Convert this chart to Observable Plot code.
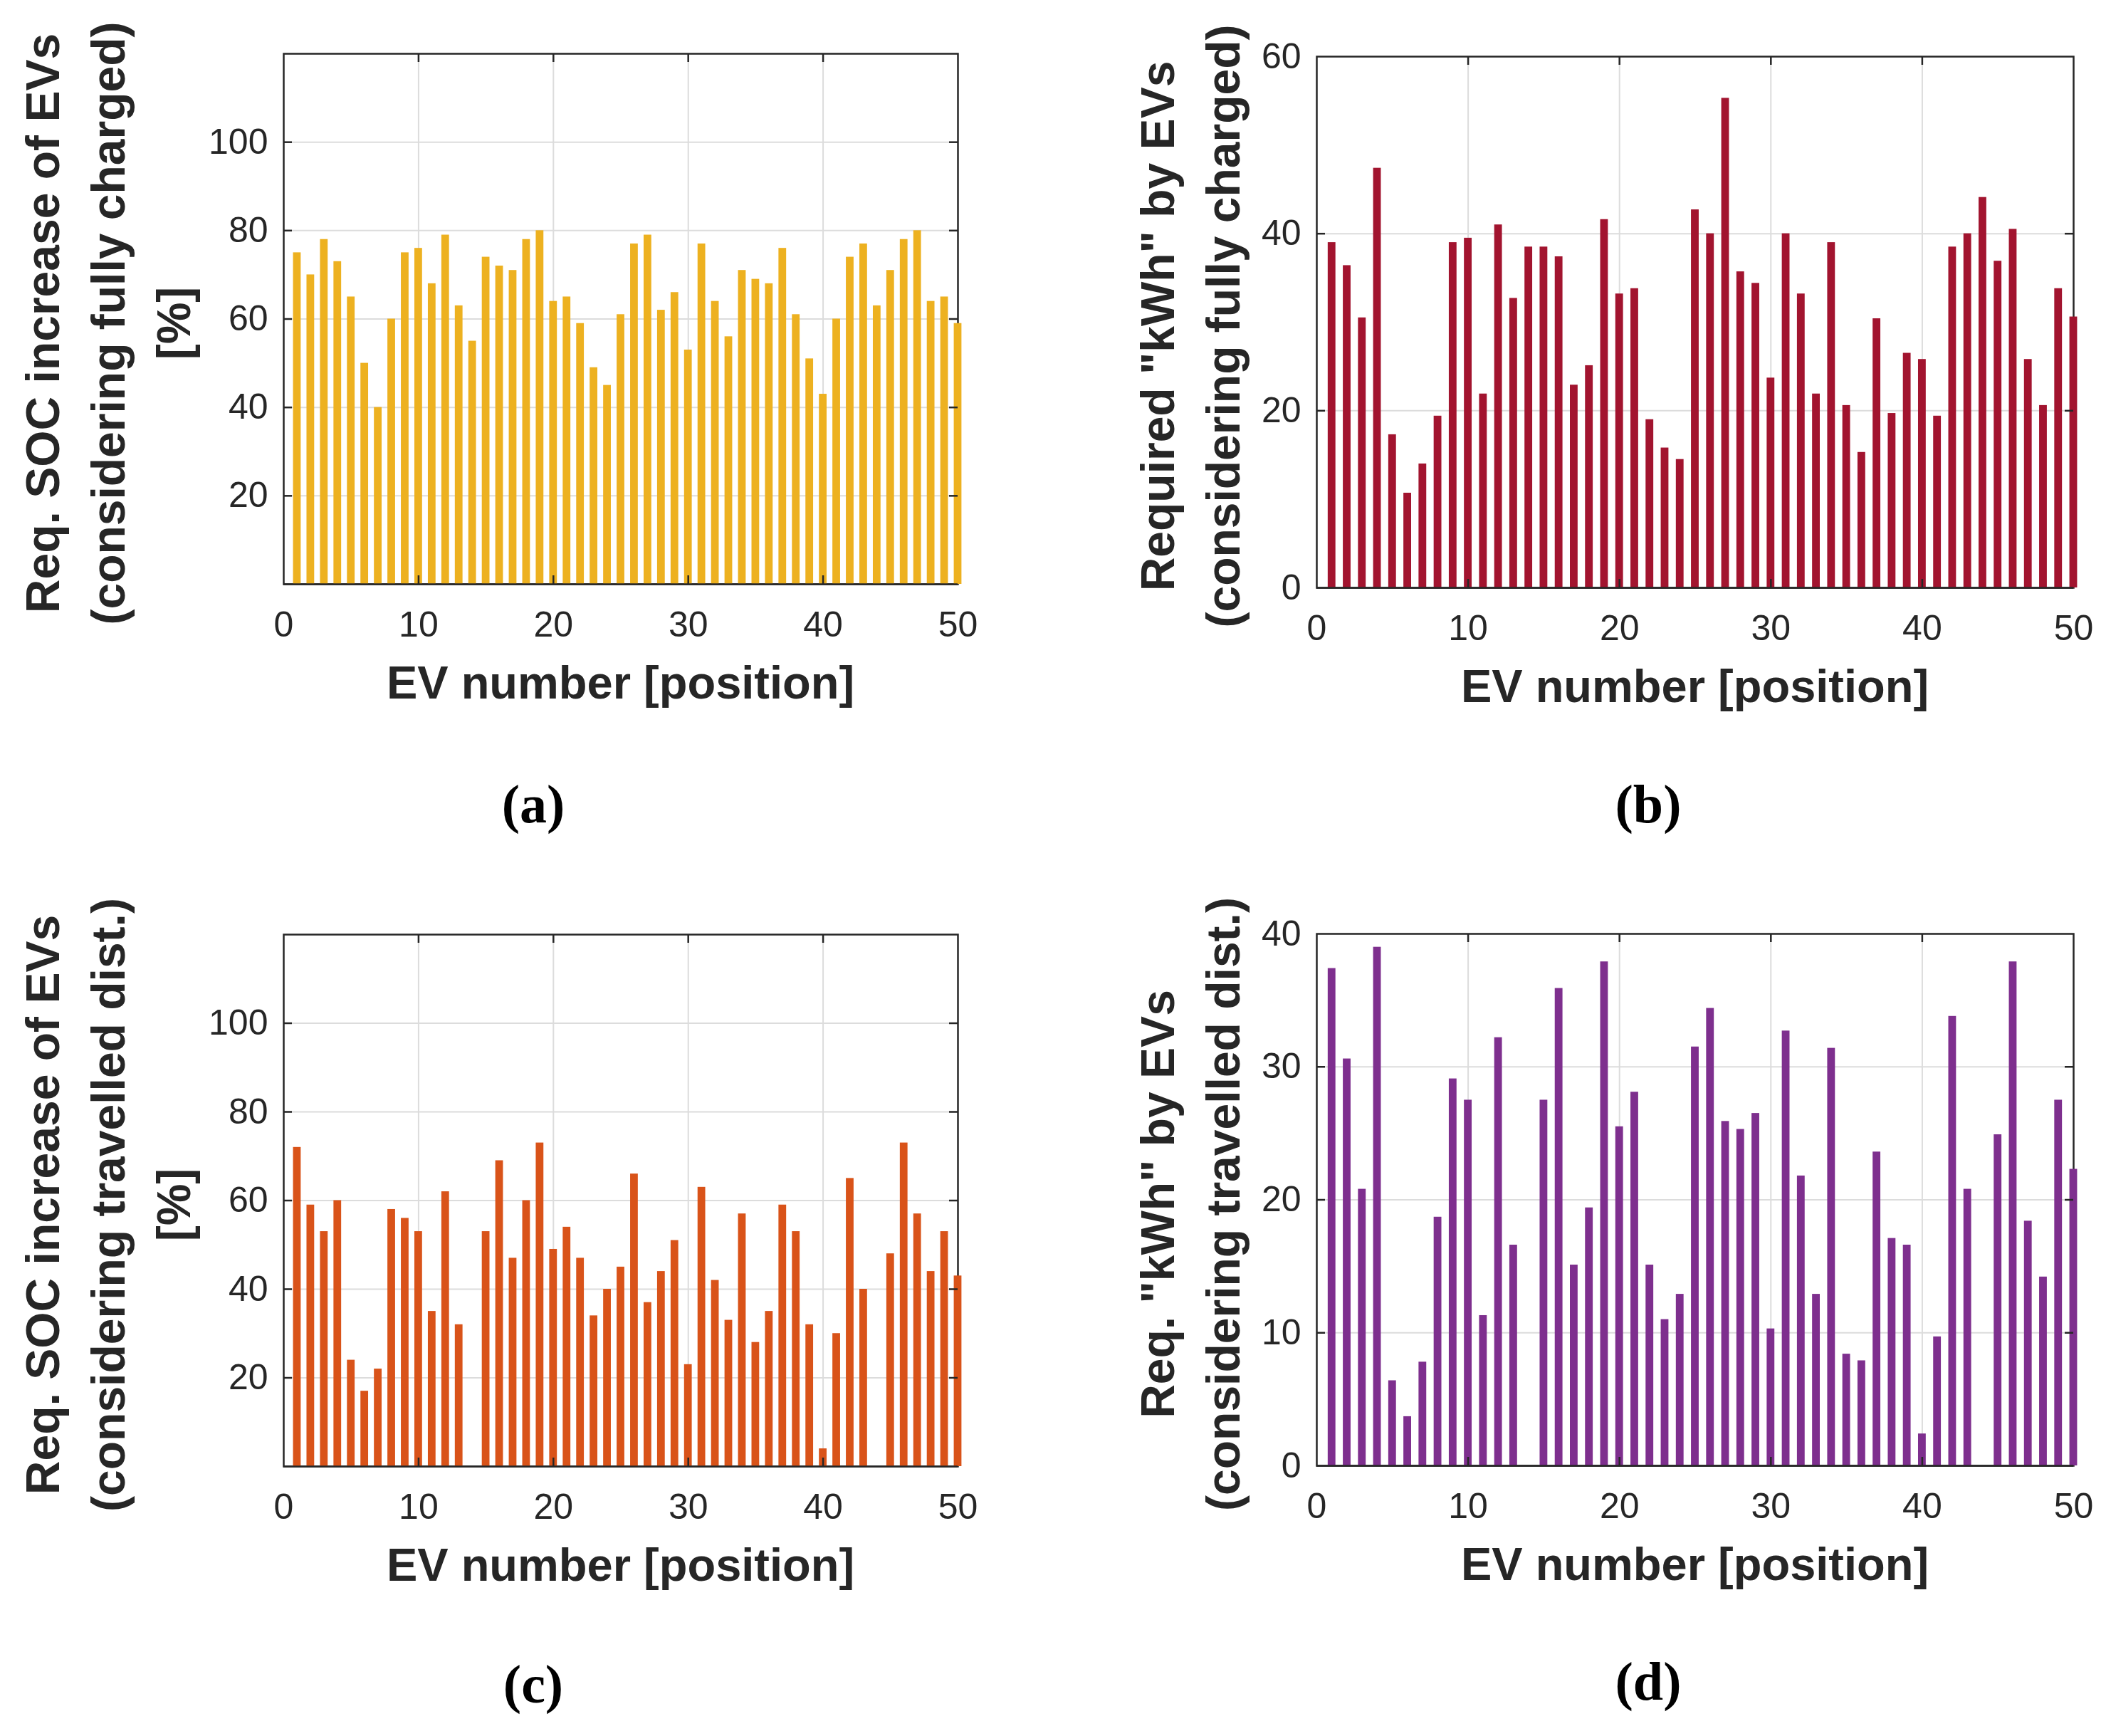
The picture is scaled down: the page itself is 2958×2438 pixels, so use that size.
<!DOCTYPE html>
<html>
<head>
<meta charset="utf-8">
<script src="https://cdn.jsdelivr.net/npm/d3@7"></script>
<script src="https://cdn.jsdelivr.net/npm/@observablehq/plot@0.6"></script>
<style>
html, body { margin: 0; padding: 0; background: #fff; }
#page { position: relative; width: 2958px; height: 2438px; background: #fff; overflow: hidden; }
.panel { position: absolute; }
.ylab { position: absolute; transform: translate(-50%, -50%) rotate(-90deg); font-family: "Liberation Sans", Arial, Helvetica, sans-serif; font-weight: bold; font-size: 66px; line-height: 92px; text-align: center; white-space: nowrap; color: #262626; }
.xlab { position: absolute; transform: translateX(-50%); font-family: "Liberation Sans", Arial, Helvetica, sans-serif; font-weight: bold; font-size: 65px; line-height: 1; white-space: nowrap; color: #262626; }
.cap { position: absolute; transform: translateX(-50%); font-family: "Liberation Serif", "DejaVu Serif", serif; font-weight: bold; font-size: 76px; line-height: 1; white-space: nowrap; color: #000; }
</style>
</head>
<body>
<div id="page"></div>
<script>
// ---- data ----
const evNumbers = [1,2,3,4,5,6,7,8,9,10,11,12,13,14,15,16,17,18,19,20,21,22,23,24,25,26,27,28,29,30,31,32,33,34,35,36,37,38,39,40,41,42,43,44,45,46,47,48,49,50];
const socFullyCharged = [75,70,78,73,65,50,40,60,75,76,68,79,63,55,74,72,71,78,80,64,65,59,49,45,61,77,79,62,66,53,77,64,56,71,69,68,76,61,51,43,60,74,77,63,71,78,80,64,65,59];
const kwhFullyCharged = [39.0,36.4,30.5,47.4,17.3,10.7,14.0,19.4,39.0,39.5,21.9,41.0,32.7,38.5,38.5,37.4,22.9,25.1,41.6,33.2,33.8,19.0,15.8,14.5,42.7,40.0,55.3,35.7,34.4,23.7,40.0,33.2,21.9,39.0,20.6,15.3,30.4,19.7,26.5,25.8,19.4,38.5,40.0,44.1,36.9,40.5,25.8,20.6,33.8,30.6];
const socTravelled = [72,59,53,60,24,17,22,58,56,53,35,62,32,0,53,69,47,60,73,49,54,47,34,40,45,66,37,44,51,23,63,42,33,57,28,35,59,53,32,4,30,65,40,0,48,73,57,44,53,43];
const kwhTravelled = [37.4,30.6,20.8,39.0,6.4,3.7,7.8,18.7,29.1,27.5,11.3,32.2,16.6,0,27.5,35.9,15.1,19.4,37.9,25.5,28.1,15.1,11.0,12.9,31.5,34.4,25.9,25.3,26.5,10.3,32.7,21.8,12.9,31.4,8.4,7.9,23.6,17.1,16.6,2.4,9.7,33.8,20.8,0,24.9,37.9,18.4,14.2,27.5,22.3];

const xTickLabels = [0,10,20,30,40,50];
const socTickLabels = [20,40,60,80,100];
const kwhFullTickLabels = [0,20,40,60];
const kwhTravTickLabels = [0,10,20,30,40];

const xLabelText = "EV number [position]";
const yLabelA = ["Req. SOC increase of EVs", "(considering fully charged)", "[%]"];
const yLabelB = ["Required \"kWh\" by EVs", "(considering fully charged)"];
const yLabelC = ["Req. SOC increase of EVs", "(considering travelled dist.)", "[%]"];
const yLabelD = ["Req. \"kWh\" by EVs", "(considering travelled dist.)"];
const captions = ["(a)", "(b)", "(c)", "(d)"];

const AXIS = "#262626";
const GRID = "#dcdcdc";
const page = document.getElementById("page");

function panel(opts) {
  const {values, color, yDomain, yTicks, barWidth, box, ylab, ylabX, caption, capX, capBase} = opts;
  const mL = 150, mR = 60, mT = 30, mB = 120;
  const bw = box.r - box.l, bh = box.b - box.t;
  const data = evNumbers.map((n, i) => ({n, v: values[i]}));
  const innerX = xTickLabels.filter(d => d > 0 && d < 50);
  const innerY = yTicks.filter(d => d > yDomain[0] && d < yDomain[1]);
  const chart = Plot.plot({
    width: bw + mL + mR,
    height: bh + mT + mB,
    marginLeft: mL, marginRight: mR, marginTop: mT, marginBottom: mB,
    x: {domain: [0, 50], axis: null},
    y: {domain: yDomain, axis: null},
    style: {fontFamily: "'Liberation Sans', Arial, Helvetica, sans-serif", fontSize: "50px", color: AXIS, background: "transparent", overflow: "visible"},
    marks: [
      Plot.ruleY(innerY, {stroke: GRID, strokeWidth: 2}),
      Plot.ruleX(innerX, {stroke: GRID, strokeWidth: 2}),
      Plot.frame({stroke: AXIS, strokeWidth: 2.5}),
      Plot.rect(data, {x1: d => d.n - barWidth / 2, x2: d => d.n + barWidth / 2, y1: d => 0, y2: d => d.v, fill: color}),
      Plot.ruleY([yDomain[0]], {stroke: AXIS, strokeWidth: 2.5}),
      Plot.tickY(innerY, {y: d => d, insetRight: bw - 12, stroke: AXIS, strokeWidth: 2.5}),
      Plot.tickY(innerY, {y: d => d, insetLeft: bw - 12, stroke: AXIS, strokeWidth: 2.5}),
      Plot.tickX(innerX, {x: d => d, insetTop: bh - 12, stroke: AXIS, strokeWidth: 2.5}),
      Plot.tickX(innerX, {x: d => d, insetBottom: bh - 12, stroke: AXIS, strokeWidth: 2.5}),
      Plot.axisX(xTickLabels, {anchor: "bottom", tickSize: 0, tickPadding: 38, fontSize: 50, label: null}),
      Plot.axisY(yTicks, {anchor: "left", tickSize: 0, tickPadding: 22, fontSize: 50, label: null})
    ]
  });
  chart.classList.add("panel");
  chart.style.left = (box.l - mL) + "px";
  chart.style.top = (box.t - mT) + "px";
  page.appendChild(chart);

  // y label (rotated, multi-line)
  const yl = document.createElement("div");
  yl.className = "ylab";
  yl.innerHTML = ylab.map(s => s.replace(/&/g, "&amp;").replace(/</g, "&lt;")).join("<br>");
  yl.style.left = ylabX + "px";
  yl.style.top = ((box.t + box.b) / 2 + 6) + "px";
  page.appendChild(yl);

  // x label
  const xl = document.createElement("div");
  xl.className = "xlab";
  xl.textContent = xLabelText;
  xl.style.left = ((box.l + box.r) / 2) + "px";
  xl.style.top = (box.b + 160 - 54) + "px";
  page.appendChild(xl);

  // caption
  const cp = document.createElement("div");
  cp.className = "cap";
  cp.textContent = caption;
  cp.style.left = capX + "px";
  cp.style.top = (capBase - 64) + "px";
  page.appendChild(cp);
}

panel({values: socFullyCharged, color: "#EDB120", yDomain: [0, 120], yTicks: socTickLabels, barWidth: 0.57,
  box: {l: 398, r: 1345, t: 75, b: 820}, ylab: yLabelA, ylabX: 152, caption: captions[0], capX: 749, capBase: 1155});
panel({values: kwhFullyCharged, color: "#A2142F", yDomain: [0, 60], yTicks: kwhFullTickLabels, barWidth: 0.51,
  box: {l: 1849, r: 2912, t: 79, b: 825}, ylab: yLabelB, ylabX: 1672, caption: captions[1], capX: 2315, capBase: 1155});
panel({values: socTravelled, color: "#D95319", yDomain: [0, 120], yTicks: socTickLabels, barWidth: 0.57,
  box: {l: 398, r: 1345, t: 1312, b: 2059}, ylab: yLabelC, ylabX: 152, caption: captions[2], capX: 749, capBase: 2391});
panel({values: kwhTravelled, color: "#7E2F8E", yDomain: [0, 40], yTicks: kwhTravTickLabels, barWidth: 0.51,
  box: {l: 1849, r: 2912, t: 1311, b: 2058}, ylab: yLabelD, ylabX: 1672, caption: captions[3], capX: 2315, capBase: 2387});
</script>
</body>
</html>
